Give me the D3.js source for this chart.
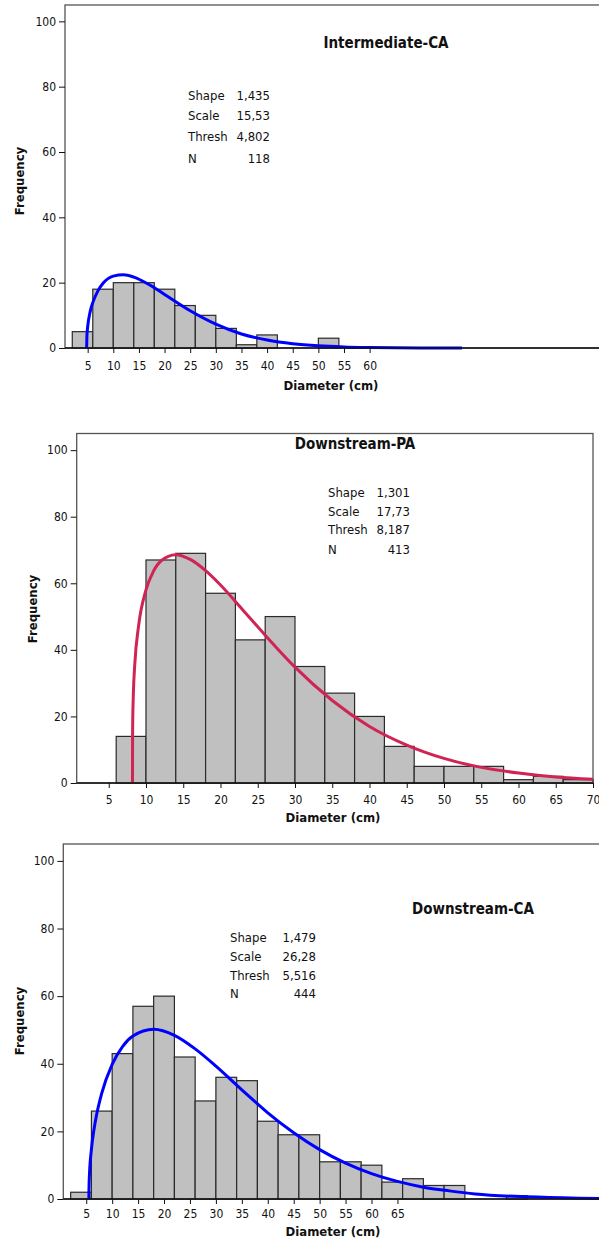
<!DOCTYPE html>
<html><head><meta charset="utf-8">
<script src="https://cdn.jsdelivr.net/npm/d3@7"></script>
<style>
html,body{margin:0;padding:0;background:#fff;}
svg{display:block;}
text{font-family:"DejaVu Sans Condensed","DejaVu Sans",sans-serif;font-stretch:condensed;fill:#111;}
</style></head>
<body>
<svg id="chart" width="599" height="1242"></svg>
<script>
// ---------- data ----------
const titles = ["Intermediate-CA", "Downstream-PA", "Downstream-CA"];
const statLabels = ["Shape", "Scale", "Thresh", "N"];
const stats1 = ["1,435", "15,53", "4,802", "118"];
const stats2 = ["1,301", "17,73", "8,187", "413"];
const stats3 = ["1,479", "26,28", "5,516", "444"];
const binWidth = 4;
const binStart1 = 2;
const counts1 = [5, 18, 20, 20, 18, 13, 10, 6, 1, 4, 0, 0, 3];
const binStart2 = 6;
const counts2 = [14, 67, 69, 57, 43, 50, 35, 27, 20, 11, 5, 5, 5, 1, 2, 1];
const binStart3 = 2;
const counts3 = [2, 26, 43, 57, 60, 42, 29, 36, 35, 23, 19, 19, 11, 11, 10, 5, 6, 4, 4, 0, 0, 1];
const xTicks1 = [5, 10, 15, 20, 25, 30, 35, 40, 45, 50, 55, 60];
const xTicks2 = [5, 10, 15, 20, 25, 30, 35, 40, 45, 50, 55, 60, 65, 70];
const xTicks3 = [5, 10, 15, 20, 25, 30, 35, 40, 45, 50, 55, 60, 65];
const yTicks = [0, 20, 40, 60, 80, 100];
const xLabel = "Diameter (cm)";
const yLabel = "Frequency";
// fitted curves
const curve1X = [4.802, 4.85, 4.9, 5, 5.5, 6, 7, 8, 10, 12, 14, 17, 20, 25, 30, 35, 40, 45, 50, 55, 60, 70, 78];
const curve1Y = [0, 3.5, 4.8, 6.5, 11.2, 13.9, 17.5, 19.8, 22.0, 22.4, 21.7, 19.4, 16.4, 11.4, 7.3, 4.3, 2.45, 1.32, 0.68, 0.33, 0.16, 0.03, 0.01];
const curve2X = [8.187, 8.2, 8.22, 8.3, 8.5, 9, 10, 11, 12, 14, 16, 18, 20, 23, 26, 30, 35, 40, 45, 50, 55, 60, 65, 70];
const curve2Y = [0, 13.8, 18.3, 26.4, 35.8, 47.1, 58.0, 63.6, 66.7, 68.6, 67.1, 63.8, 59.5, 52.0, 44.4, 34.8, 24.8, 17.0, 11.4, 7.4, 4.7, 3.0, 1.8, 1.1];
const curve3X = [5.516, 5.52, 5.55, 5.6, 6, 6.5, 7, 8, 10, 12, 14, 18, 22, 26, 30, 35, 40, 45, 50, 55, 60, 65, 70, 75, 80, 90, 100, 106];
const curve3Y = [0, 1.5, 4.1, 6.4, 14.7, 20.6, 24.9, 31.3, 39.8, 45.1, 48.2, 50.2, 48.4, 44.4, 39.3, 32.3, 25.5, 19.6, 14.6, 10.6, 7.5, 5.2, 3.5, 2.4, 1.5, 0.63, 0.24, 0.13];

// ---------- layout ----------
const panels = [
  {title: titles[0], stats: stats1, binStart: binStart1, counts: counts1, xTicks: xTicks1, cx: curve1X, cy: curve1Y,
   color: "#0000ff", xDom: [0.58, 106.3], xR: [65, 607], yR: [348, 5], full: false,
   titlePos: [386, 48], statX: [188, 270], statY: [100, 120, 140.5, 162.5],
   xlab: [331, 390], ylab: [19, 181], tickY: 370},
  {title: titles[1], stats: stats2, binStart: binStart2, counts: counts2, xTicks: xTicks2, cx: curve2X, cy: curve2Y,
   color: "#cf2454", xDom: [0.7, 70], xR: [76.7, 593], yR: [783, 433.5], full: true,
   titlePos: [355, 449], statX: [328, 410], statY: [497, 515.5, 534, 553.5],
   xlab: [333, 821.5], ylab: [32, 609], tickY: 804},
  {title: titles[2], stats: stats3, binStart: binStart3, counts: counts3, xTicks: xTicks3, cx: curve3X, cy: curve3Y,
   color: "#0000ff", xDom: [0.58, 105.4], xR: [63.3, 607], yR: [1199, 844], full: false,
   titlePos: [473, 914], statX: [230, 316], statY: [942, 960.5, 979.5, 998],
   xlab: [333, 1236], ylab: [19, 1021], tickY: 1218}
];

const svg = d3.select("#chart");

panels.forEach(p => {
  const x = d3.scaleLinear().domain(p.xDom).range(p.xR);
  const y = d3.scaleLinear().domain([0, 105]).range(p.yR);
  const g = svg.append("g");

  // frame
  g.append("rect")
    .attr("x", p.xR[0]).attr("y", p.yR[1])
    .attr("width", p.xR[1] - p.xR[0]).attr("height", p.yR[0] - p.yR[1])
    .attr("fill", "none").attr("stroke", "#555").attr("stroke-width", 1.3);

  // bars
  const bins = p.counts.map((c, i) => ({x0: p.binStart + i * binWidth, x1: p.binStart + (i + 1) * binWidth, c}));
  g.append("g").selectAll("rect").data(bins.filter(b => b.c > 0)).join("rect")
    .attr("x", d => x(d.x0)).attr("width", d => x(d.x1) - x(d.x0))
    .attr("y", d => y(d.c)).attr("height", d => y(0) - y(d.c))
    .attr("fill", "#c0c0c0").attr("stroke", "#2a2a2a").attr("stroke-width", 1.2);

  // curve
  const pts = p.cx.map((v, i) => [v, p.cy[i]]);
  g.append("path").datum(pts)
    .attr("d", d3.line().x(d => x(d[0])).y(d => y(d[1])).curve(d3.curveMonotoneX))
    .attr("fill", "none").attr("stroke", p.color).attr("stroke-width", 3);

  // x axis
  const xa = g.append("g").attr("transform", `translate(0,${p.yR[0]})`)
    .call(d3.axisBottom(x).tickValues(p.xTicks).tickSize(5).tickSizeOuter(0).tickPadding(4));
  xa.select(".domain").remove();
  g.append("line").attr("x1", p.xR[0]).attr("x2", p.xR[1]).attr("y1", p.yR[0]).attr("y2", p.yR[0])
    .attr("stroke", "#111").attr("stroke-width", 1.4);
  xa.selectAll(".tick line").attr("stroke", "#111");
  xa.selectAll(".tick text").attr("font-size", 12).attr("y", null).attr("dy", null)
    .attr("transform", null).each(function() {
      d3.select(this).attr("y", p.tickY - p.yR[0]);
    });

  // y axis
  const ya = g.append("g").attr("transform", `translate(${p.xR[0]},0)`)
    .call(d3.axisLeft(y).tickValues(yTicks).tickSize(6).tickSizeOuter(0).tickPadding(3));
  ya.select(".domain").remove();
  ya.selectAll(".tick line").attr("stroke", "#111");
  ya.selectAll(".tick text").attr("font-size", 12);
  svg.selectAll("g.tick text").style("font-family", null);

  // title
  g.append("text").attr("x", p.titlePos[0]).attr("y", p.titlePos[1])
    .attr("text-anchor", "middle").attr("font-size", 15).attr("font-weight", "bold").text(p.title);

  // stats
  statLabels.forEach((lab, i) => {
    g.append("text").attr("x", p.statX[0]).attr("y", p.statY[i]).attr("font-size", 13).attr("fill", "#222").text(lab);
    g.append("text").attr("x", p.statX[1]).attr("y", p.statY[i]).attr("font-size", 13).attr("fill", "#222")
      .attr("text-anchor", "end").text(p.stats[i]);
  });

  // axis labels
  g.append("text").attr("x", p.xlab[0]).attr("y", p.xlab[1]).attr("text-anchor", "middle")
    .attr("font-size", 13).attr("font-weight", "bold").text(xLabel);
  g.append("text").attr("transform", `translate(${p.ylab[0]},${p.ylab[1]}) rotate(-90)`)
    .attr("text-anchor", "middle").attr("dy", "0.35em")
    .attr("font-size", 13).attr("font-weight", "bold").text(yLabel);
});
svg.selectAll("text").style("font-family", '"DejaVu Sans Condensed","DejaVu Sans",sans-serif');
</script>
</body></html>
